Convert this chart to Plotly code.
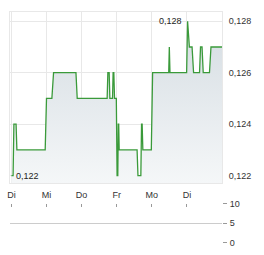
import plotly.graph_objects as go
from plotly.subplots import make_subplots

# trading-day position (0 = Di, 1 = Mi, ...) and price
t = [0.000, 0.048, 0.071, 0.133, 0.156, 0.963, 1.000, 1.153, 1.201, 1.839,
     1.875, 2.728, 2.748, 2.785, 2.805, 2.881, 2.898, 2.918, 2.938, 2.989,
     3.011, 3.031, 3.045, 3.057, 3.071, 3.581, 3.606, 3.688, 3.708, 3.725,
     3.745, 3.986, 4.023, 4.482, 4.499, 4.518, 4.992, 5.020, 5.071, 5.147,
     5.190, 5.360, 5.388, 5.431, 5.465, 5.643, 5.686, 6.000]
price = [0.122, 0.122, 0.124, 0.124, 0.123, 0.123, 0.125, 0.125, 0.126, 0.126,
         0.125, 0.125, 0.126, 0.126, 0.125, 0.125, 0.126, 0.126, 0.125, 0.125,
         0.122, 0.122, 0.124, 0.124, 0.123, 0.123, 0.122, 0.122, 0.124, 0.124,
         0.123, 0.123, 0.126, 0.126, 0.127, 0.126, 0.126, 0.128, 0.127, 0.127,
         0.126, 0.126, 0.127, 0.127, 0.126, 0.126, 0.127, 0.127]
day_pos = [0, 1, 2, 3, 4, 5]
day_labels = ["Di", "Mi", "Do", "Fr", "Mo", "Di"]
price_ticks = [0.122, 0.124, 0.126, 0.128]
vol_ticks = [0, 5, 10]
max_label = "0,128"
min_label = "0,122"

FONT = "Liberation Sans, Arial, sans-serif"
TXT = "#333333"
GRID = "#e8e8e8"

fig = make_subplots(rows=2, cols=1)

fig.add_trace(go.Scatter(
    x=t, y=price, mode="lines",
    line=dict(color="#3a9a3a", width=1.3),
    fill="tozeroy",
    fillgradient=dict(type="vertical", start=0.1217, stop=0.1284,
                      colorscale=[[0, "rgb(246,248,249)"], [1, "rgb(211,219,225)"]]),
    hoverinfo="skip", showlegend=False), row=1, col=1)

# empty volume panel
fig.add_trace(go.Scatter(x=[0], y=[0], mode="markers", marker=dict(opacity=0),
                         hoverinfo="skip", showlegend=False), row=2, col=1)

imax = price.index(max(price))
imin = price.index(min(price))
fig.add_annotation(x=t[imax], y=price[imax], text=max_label, showarrow=False,
                   xanchor="right", yanchor="middle", xshift=-4,
                   font=dict(family=FONT, size=9, color="#222"), xref="x", yref="y")
fig.add_annotation(x=t[imin], y=price[imin], text=min_label, showarrow=False,
                   xanchor="left", yanchor="middle", xshift=3,
                   font=dict(family=FONT, size=9, color="#222"), xref="x", yref="y")

fig.update_layout(
    width=264, height=255,
    margin=dict(l=8, r=42, t=7, b=8),
    paper_bgcolor="white", plot_bgcolor="white",
    separators=", ",
    font=dict(family=FONT, size=9, color=TXT),
    xaxis=dict(domain=[0, 1], range=[-0.04, 6.0], tickvals=day_pos, ticktext=day_labels,
               showgrid=True, gridcolor=GRID, gridwidth=1, zeroline=False,
               showline=True, linecolor=GRID, mirror=True, ticks="",
               ticklabelstandoff=3, fixedrange=True),
    yaxis=dict(domain=[0.2583, 1], range=[0.1217, 0.12836], side="right",
               tickvals=price_ticks, tickformat=".3f",
               showgrid=True, gridcolor=GRID, zeroline=False,
               showline=True, linecolor=GRID, mirror=True, ticks="",
               ticklabelstandoff=4),
    xaxis2=dict(domain=[0, 1], range=[-0.04, 6.0], tickvals=day_pos + [6],
                showticklabels=False, side="top", ticks="inside", ticklen=3,
                tickcolor="#999", showgrid=False, zeroline=False,
                showline=False, anchor="y2"),
    yaxis2=dict(domain=[0, 0.1708], range=[0, 10], side="right", tickvals=vol_ticks,
                showgrid=True, gridcolor="#cccccc", zeroline=False,
                showline=False, ticks="outside", ticklen=4, tickcolor="#999",
                ticklabelstandoff=1),
)

fig.write_html("out.html")
